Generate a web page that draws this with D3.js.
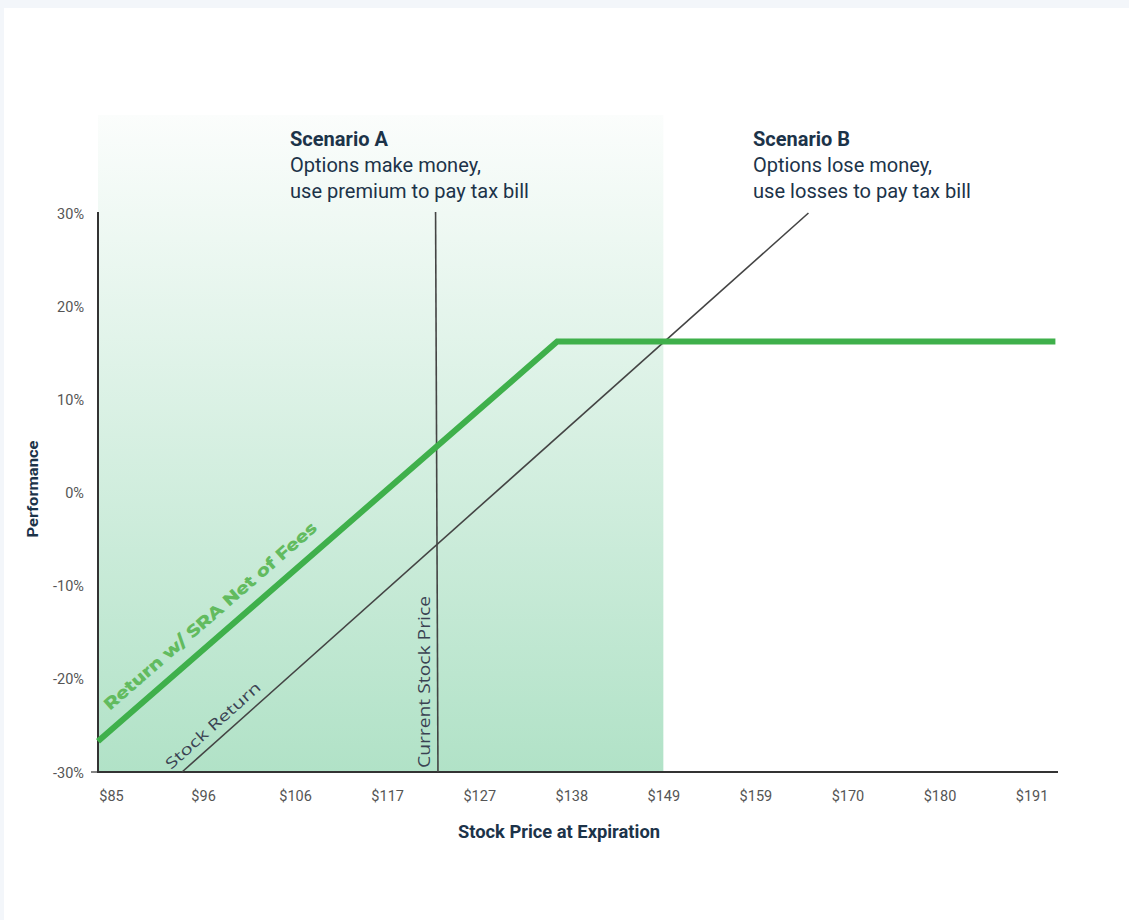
<!DOCTYPE html>
<html>
<head>
<meta charset="utf-8">
<script src="https://cdn.jsdelivr.net/npm/d3@7"></script>
<style>
  body { margin: 0; background: #f3f6fa; }
  svg { display: block; }
</style>
</head>
<body>
<script>
// chart values
var xTicks = [85, 95.625, 106.25, 116.875, 127.5, 138.125, 148.75, 159.375, 170, 180.625, 191.25];
var xTickLabels = ['$85', '$96', '$106', '$117', '$127', '$138', '$149', '$159', '$170', '$180', '$191'];
var yTicks = [-30, -20, -10, 0, 10, 20, 30];

var sraPrice = [83.5, 136.5, 194.0];
var sraReturn = [-26.7, 16.2, 16.2];

var stockPrice = [93.2, 165.5];
var stockReturn = [-30, 30];

var currentPrice = 122.6;
var scenarioSplit = 148.75;

// layout
var W = 1129, H = 920;
var x0 = 98, x1 = 1058, yTop = 213, yBot = 772;

var svg = d3.select('body').append('svg')
	.attr('width', W).attr('height', H);

// card
svg.append('rect').attr('x', 4).attr('y', 8).attr('width', W).attr('height', H)
	.attr('fill', '#fff');

var xScale = d3.scaleLinear().domain([83.5, 194.3]).range([x0, x1]);
var yScale = d3.scaleLinear().domain([-30, 30]).range([yBot, yTop]);

// gradient for scenario A band
var grad = svg.append('defs').append('linearGradient')
	.attr('id', 'bandGrad').attr('x1', 0).attr('x2', 0).attr('y1', 0).attr('y2', 1);
grad.append('stop').attr('offset', '0%').attr('stop-color', '#fbfdfc');
grad.append('stop').attr('offset', '100%').attr('stop-color', '#b1e2c7');

svg.append('rect')
	.attr('x', xScale(83.5))
	.attr('y', 115)
	.attr('width', xScale(scenarioSplit) - xScale(83.5))
	.attr('height', yBot - 115)
	.attr('fill', 'url(#bandGrad)');

// y axis
var yAxis = d3.axisLeft(yScale).tickValues(yTicks).tickSize(0).tickPadding(14)
	.tickFormat(function(d){ return d + '%'; });
var gy = svg.append('g').attr('transform', 'translate(' + x0 + ',0)').call(yAxis);
gy.select('.domain').remove();
gy.selectAll('text').attr('font-family', 'Roboto').attr('font-size', '14.5px').attr('fill', '#555')
	.attr('dy', '0.35em');

svg.append('line').attr('x1', x0).attr('x2', x0).attr('y1', yTop - 1).attr('y2', yBot)
	.attr('stroke', '#333').attr('stroke-width', 2);
svg.append('line').attr('x1', x0 - 7).attr('x2', x0).attr('y1', yBot).attr('y2', yBot)
	.attr('stroke', '#333').attr('stroke-width', 1.2);

// x axis
var xAxis = d3.axisBottom(xScale).tickValues(xTicks).tickSize(0).tickPadding(19)
	.tickFormat(function(d, i){ return xTickLabels[i]; });
var gx = svg.append('g').attr('transform', 'translate(0,' + yBot + ')').call(xAxis);
gx.select('.domain').remove();
gx.selectAll('text').attr('font-family', 'Roboto').attr('font-size', '14.5px').attr('fill', '#555');

svg.append('line').attr('x1', x0 - 1).attr('x2', x1).attr('y1', yBot).attr('y2', yBot)
	.attr('stroke', '#333').attr('stroke-width', 2);

// current stock price marker
svg.append('line')
	.attr('x1', xScale(currentPrice) - 1.2).attr('x2', xScale(currentPrice) + 1.2)
	.attr('y1', yScale(30) - 1).attr('y2', yBot)
	.attr('stroke', '#444').attr('stroke-width', 1.6);

var line = d3.line().x(function(d){ return xScale(d[0]); }).y(function(d){ return yScale(d[1]); });

// stock return line
svg.append('path')
	.datum(d3.zip(stockPrice, stockReturn))
	.attr('d', line)
	.attr('fill', 'none').attr('stroke', '#444').attr('stroke-width', 1.6);

// SRA line
svg.append('path')
	.datum(d3.zip(sraPrice, sraReturn))
	.attr('d', line)
	.attr('fill', 'none').attr('stroke', '#3fb04b').attr('stroke-width', 6);

// labels along lines
function angleOf(p, r){
	var dx = xScale(p[1]) - xScale(p[0]), dy = yScale(r[1]) - yScale(r[0]);
	return Math.atan2(dy, dx) * 180 / Math.PI;
}

var sraAng = angleOf(sraPrice, sraReturn);
svg.append('text')
	.attr('transform', 'translate(110,711) rotate(' + sraAng + ')')
	.attr('font-family', 'Montserrat, "Open Sans", sans-serif')
	.attr('font-weight', 800).attr('font-size', '17px').attr('fill', '#62bb5f')
	.attr('textLength', 276).attr('lengthAdjust', 'spacingAndGlyphs')
	.text('Return w/ SRA Net of Fees');

var stockAng = angleOf(stockPrice, stockReturn);
svg.append('text')
	.attr('transform', 'translate(171,770) rotate(' + stockAng + ')')
	.attr('font-family', '"Open Sans", sans-serif')
	.attr('font-size', '15px').attr('fill', '#3a4252')
	.attr('textLength', 122).attr('lengthAdjust', 'spacingAndGlyphs')
	.text('Stock Return');

svg.append('text')
	.attr('transform', 'translate(430,768) rotate(-90)')
	.attr('font-family', '"Open Sans", sans-serif')
	.attr('font-size', '15.5px').attr('fill', '#3a4252')
	.attr('textLength', 172).attr('lengthAdjust', 'spacingAndGlyphs')
	.text('Current Stock Price');

// scenario notes
var notes = [
	{x: 290, lines: [['Scenario A', 98, 700], ['Options make money,', 191, 400], ['use premium to pay tax bill', 239, 400]]},
	{x: 753, lines: [['Scenario B', 97, 700], ['Options lose money,', 179, 400], ['use losses to pay tax bill', 218, 400]]}
];
notes.forEach(function(n){
	n.lines.forEach(function(l, i){
		svg.append('text')
			.attr('x', n.x).attr('y', 146 + i * 26)
			.attr('font-family', 'Roboto').attr('font-size', '19.5px')
			.attr('font-weight', l[2]).attr('fill', '#1c3349')
			.attr('textLength', l[1]).attr('lengthAdjust', 'spacingAndGlyphs')
			.text(l[0]);
	});
});

// axis titles
svg.append('text')
	.attr('x', 559).attr('y', 838).attr('text-anchor', 'middle')
	.attr('font-family', 'Roboto').attr('font-weight', 700).attr('font-size', '17.5px')
	.attr('fill', '#1c3349')
	.attr('textLength', 202).attr('lengthAdjust', 'spacingAndGlyphs')
	.text('Stock Price at Expiration');

svg.append('text')
	.attr('transform', 'translate(38,489) rotate(-90)').attr('text-anchor', 'middle')
	.attr('font-family', 'Roboto').attr('font-weight', 700).attr('font-size', '14.5px')
	.attr('fill', '#1c3349')
	.attr('textLength', 97).attr('lengthAdjust', 'spacingAndGlyphs')
	.text('Performance');
</script>
</body>
</html>
